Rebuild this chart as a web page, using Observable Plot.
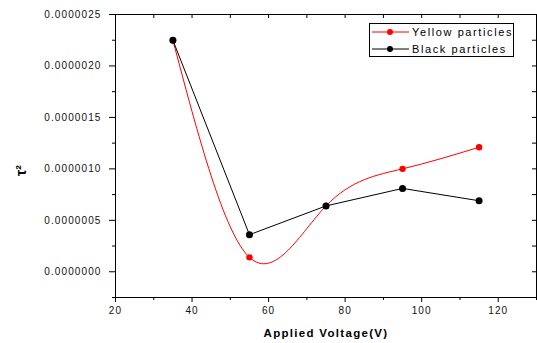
<!DOCTYPE html>
<html><head><meta charset="utf-8">
<script src="https://cdn.jsdelivr.net/npm/d3@7"></script>
<script src="https://cdn.jsdelivr.net/npm/@observablehq/plot@0.6"></script>
<style>
body{margin:0;background:#fff;}
#wrap{position:relative;width:537px;height:343px;font-family:"Liberation Sans",Arial,sans-serif;}
#legend{position:absolute;left:369px;top:23px;width:143px;height:32px;border:1px solid #000;background:#fff;font-size:11px;letter-spacing:1.6px;}
#legend .row{position:absolute;left:2px;height:14px;display:flex;align-items:center;white-space:nowrap;}
#legend svg{margin-right:2px;}
</style></head><body>
<div id="wrap"></div>
<script>
const voltages = [35, 55, 75, 95, 115];
const yellowTau = [2.25e-6, 0.14e-6, 0.64e-6, 1.0e-6, 1.21e-6];
const blackTau = [2.25e-6, 0.36e-6, 0.64e-6, 0.81e-6, 0.69e-6];
const seriesNames = ["Yellow particles", "Black particles"];
const seriesColors = ["#ff0000", "#000000"];
const xMajor = [20, 40, 60, 80, 100, 120];
const xMinor = [30, 50, 70, 90, 110, 130];
const yMajor = [0, 0.5e-6, 1.0e-6, 1.5e-6, 2.0e-6, 2.5e-6];
const yMinor = [-0.25e-6, 0.25e-6, 0.75e-6, 1.25e-6, 1.75e-6, 2.25e-6];
const xLabel = "Applied Voltage(V)";
const yLabel = "τ²";

const W = 537, H = 343, mL = 115, mR = 1, mT = 14, mB = 46;
const pw = W - mL - mR, ph = H - mT - mB;
const yellowData = voltages.map((v, i) => ({x: v, y: yellowTau[i]}));
const blackData = voltages.map((v, i) => ({x: v, y: blackTau[i]}));
const fmt = d3.format(".7f");
const allX = [...xMajor, ...xMinor];
const allY = [...yMajor, ...yMinor];

const chart = Plot.plot({
  width: W, height: H,
  marginLeft: mL, marginRight: mR, marginTop: mT, marginBottom: mB,
  style: {fontFamily: "Liberation Sans, Arial, sans-serif", fontSize: "10px", color: "#000", background: "#fff"},
  x: {domain: [20, 130]},
  y: {domain: [-0.25e-6, 2.5e-6]},
  marks: [
    Plot.frame({stroke: "#000", strokeWidth: 1}),
    Plot.axisY(yMajor, {tickSize: 6, tickPadding: 8, tickFormat: fmt, label: null, fontSize: 10, stroke: "#000", fill: "#111"}),
    Plot.axisY(yMinor, {tickSize: 3, text: null, label: null, stroke: "#000"}),
    Plot.axisX(xMajor, {tickSize: 5, tickPadding: 4, label: null, fontSize: 10, stroke: "#000", fill: "#111"}),
    Plot.axisX(xMinor, {tickSize: 3, text: null, label: null, stroke: "#000"}),
    Plot.tickX(allX, {x: d => d, insetBottom: ph - 4, stroke: "#000"}),
    Plot.tickY(allY, {y: d => d, insetLeft: pw - 4, stroke: "#000"}),
    Plot.line(yellowData, {x: "x", y: "y", curve: "natural", stroke: seriesColors[0], strokeWidth: 1}),
    Plot.line(blackData, {x: "x", y: "y", stroke: seriesColors[1], strokeWidth: 1}),
    Plot.dot(yellowData, {x: "x", y: "y", r: 3.2, fill: seriesColors[0]}),
    Plot.dot(blackData, {x: "x", y: "y", r: 3.5, fill: seriesColors[1]}),
    Plot.text([yLabel], {frameAnchor: "left", dx: -94, dy: 20, rotate: -90, text: d => d, fontSize: 14, fontWeight: "bold", fill: "#000"}),
    Plot.text([xLabel], {frameAnchor: "bottom", dy: 39, text: d => d, fontSize: 11.5, fontWeight: "bold", fill: "#000"})
  ]
});
const wrap = document.getElementById("wrap");
wrap.appendChild(chart);
d3.select(chart).selectAll("g[aria-label='y-axis tick label'], g[aria-label='x-axis tick label']").style("letter-spacing", "1.1px");
d3.select(chart).selectAll("text").filter(function(){ return this.textContent === xLabel; }).style("letter-spacing", "1.3px");

const leg = document.createElement("div");
leg.id = "legend";
seriesNames.forEach((name, i) => {
  const row = document.createElement("div");
  row.className = "row";
  row.style.top = (i === 0 ? 1 : 18) + "px";
  const c = seriesColors[i];
  row.innerHTML = `<svg width="38" height="10"><line x1="0" y1="5" x2="37" y2="5" stroke="${c}" stroke-width="1"/><circle cx="18" cy="5" r="3" fill="${c}"/></svg><span>${name}</span>`;
  leg.appendChild(row);
});
wrap.appendChild(leg);
</script>
</body></html>
